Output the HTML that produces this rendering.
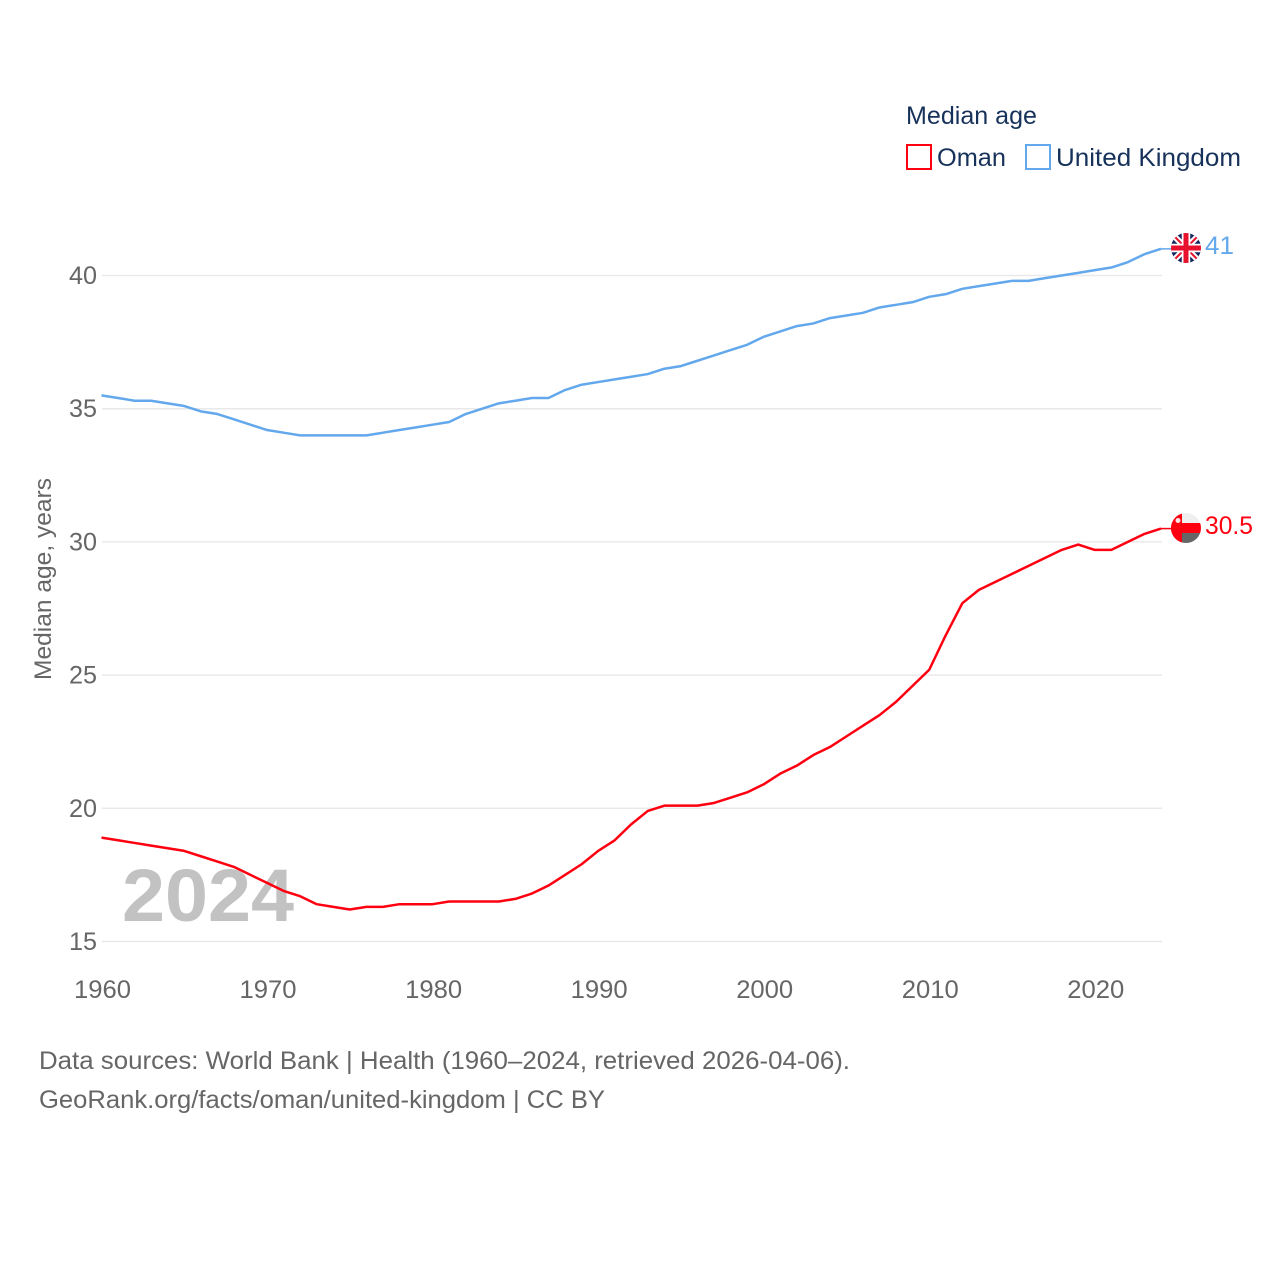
<!DOCTYPE html>
<html lang="en">
<head>
<meta charset="utf-8">
<title>Median age: Oman and United Kingdom</title>
<style>
html,body{margin:0;padding:0;background:#fff}
svg{display:block}
text{font-family:"Liberation Sans",sans-serif}
</style>
</head>
<body>
<svg id="chart" width="1280" height="1280" viewBox="0 0 1280 1280" xmlns="http://www.w3.org/2000/svg">
  <defs>
    <clipPath id="uk-clip"><circle cx="1186" cy="248" r="15"/></clipPath>
    <clipPath id="om-clip"><circle cx="1186" cy="528" r="15"/></clipPath>
  </defs>
  <g id="grid"></g>
  <g id="y-ticks"></g>
  <g id="x-ticks"></g>
  <text x="122" y="921" font-size="74" font-weight="bold" fill="#c2c2c2" textLength="172" lengthAdjust="spacingAndGlyphs">2024</text>
  <g id="series"></g>
  <text transform="translate(51,680) rotate(-90)" font-size="24" fill="#666" textLength="202" lengthAdjust="spacingAndGlyphs">Median age, years</text>

  <text x="906" y="124" font-size="25" fill="#17325a" textLength="131" lengthAdjust="spacingAndGlyphs">Median age</text>
  <rect x="907" y="145" width="24" height="24" fill="none" stroke="#ff0010" stroke-width="2"/>
  <text x="937" y="166" font-size="25" fill="#17325a" textLength="69" lengthAdjust="spacingAndGlyphs">Oman</text>
  <rect x="1026" y="145" width="24" height="24" fill="none" stroke="#63a8ec" stroke-width="2"/>
  <text x="1056" y="166" font-size="25" fill="#17325a" textLength="185" lengthAdjust="spacingAndGlyphs">United Kingdom</text>

  <g clip-path="url(#uk-clip)">
    <rect x="1171" y="233" width="30" height="30" fill="#14275f"/>
    <path d="M1171 233L1201 263M1201 233L1171 263" stroke="#fff" stroke-width="6"/>
    <path d="M1171 233L1201 263M1201 233L1171 263" stroke="#e8112d" stroke-width="2"/>
    <path d="M1186 233V263M1171 248H1201" stroke="#fff" stroke-width="8.5"/>
    <path d="M1186 233V263M1171 248H1201" stroke="#e8112d" stroke-width="5"/>
  </g>
  <text x="1205" y="254" font-size="25" fill="#63a8ec" textLength="29" lengthAdjust="spacingAndGlyphs">41</text>

  <g clip-path="url(#om-clip)">
    <rect x="1171" y="513" width="30" height="10" fill="#efefef"/>
    <rect x="1171" y="523" width="30" height="10" fill="#ff0010"/>
    <rect x="1171" y="533" width="30" height="10" fill="#666"/>
    <rect x="1171" y="513" width="11" height="30" fill="#ff0010"/>
    <circle cx="1178" cy="520.5" r="2.5" fill="#fbe3e3"/>
  </g>
  <text x="1205" y="534" font-size="25" fill="#ff0010" textLength="48" lengthAdjust="spacingAndGlyphs">30.5</text>

  <text x="39" y="1069" font-size="25" fill="#666" textLength="811" lengthAdjust="spacingAndGlyphs">Data sources: World Bank | Health (1960–2024, retrieved 2026-04-06).</text>
  <a><text x="39" y="1108" font-size="25" fill="#666" textLength="566" lengthAdjust="spacingAndGlyphs">GeoRank.org/facts/oman/united-kingdom | CC BY</text></a>
</svg>
<script>
const startYear = 1960;
const yTickValues = [15, 20, 25, 30, 35, 40];
const xTickValues = [1960, 1970, 1980, 1990, 2000, 2010, 2020];
const omanValues = [18.9,18.8,18.7,18.6,18.5,18.4,18.2,18.0,17.8,17.5,17.2,16.9,16.7,16.4,16.3,16.2,16.3,16.3,16.4,16.4,16.4,16.5,16.5,16.5,16.5,16.6,16.8,17.1,17.5,17.9,18.4,18.8,19.4,19.9,20.1,20.1,20.1,20.2,20.4,20.6,20.9,21.3,21.6,22.0,22.3,22.7,23.1,23.5,24.0,24.6,25.2,26.5,27.7,28.2,28.5,28.8,29.1,29.4,29.7,29.9,29.7,29.7,30.0,30.3,30.5];
const ukValues = [35.5,35.4,35.3,35.3,35.2,35.1,34.9,34.8,34.6,34.4,34.2,34.1,34.0,34.0,34.0,34.0,34.0,34.1,34.2,34.3,34.4,34.5,34.8,35.0,35.2,35.3,35.4,35.4,35.7,35.9,36.0,36.1,36.2,36.3,36.5,36.6,36.8,37.0,37.2,37.4,37.7,37.9,38.1,38.2,38.4,38.5,38.6,38.8,38.9,39.0,39.2,39.3,39.5,39.6,39.7,39.8,39.8,39.9,40.0,40.1,40.2,40.3,40.5,40.8,41.0];

const NS = 'http://www.w3.org/2000/svg';
const xLeft = 101.5, xRight = 1161, yearSpan = 64;
const gridLeft = 102, gridRight = 1162;
const labelOffset = 1;
const yAt15 = 941.5, yAt40 = 275.5;
function xScale(year) { return xLeft + (year - startYear) * (xRight - xLeft) / yearSpan; }
function yScale(v) { return yAt15 + (v - 15) * (yAt40 - yAt15) / 25; }

const gridGroup = document.getElementById('grid');
const yGroup = document.getElementById('y-ticks');
const xGroup = document.getElementById('x-ticks');
const seriesGroup = document.getElementById('series');

yTickValues.forEach(function (v) {
  const line = document.createElementNS(NS, 'line');
  
  
  line.setAttribute('x1', gridLeft);
  line.setAttribute('x2', gridRight);
  line.setAttribute('y1', yScale(v));
  line.setAttribute('y2', yScale(v));
  line.setAttribute('stroke', '#e9e9e9');
  line.setAttribute('stroke-width', '1.5');
  gridGroup.appendChild(line);

  const label = document.createElementNS(NS, 'text');
  
  
  label.setAttribute('x', 97);
  label.setAttribute('y', yScale(v) + 8.5);
  label.setAttribute('text-anchor', 'end');
  label.setAttribute('font-size', '25');
  label.setAttribute('fill', '#666');
  label.setAttribute('textLength', '28');
  label.setAttribute('lengthAdjust', 'spacingAndGlyphs');
  label.textContent = v;
  yGroup.appendChild(label);
});

xTickValues.forEach(function (year) {
  const label = document.createElementNS(NS, 'text');
  
  
  label.setAttribute('x', xScale(year) + labelOffset);
  label.setAttribute('y', 998);
  label.setAttribute('text-anchor', 'middle');
  label.setAttribute('font-size', '25');
  label.setAttribute('fill', '#666');
  label.setAttribute('textLength', '57');
  label.setAttribute('lengthAdjust', 'spacingAndGlyphs');
  label.textContent = year;
  xGroup.appendChild(label);
});

function drawSeries(values, color, name) {
  const d = values.map(function (v, i) {
    return (i ? 'L' : 'M') + xScale(startYear + i).toFixed(2) + ' ' + yScale(v).toFixed(2);
  }).join('');
  const path = document.createElementNS(NS, 'path');
  
  
  path.setAttribute('d', d);
  path.setAttribute('fill', 'none');
  path.setAttribute('stroke', color);
  path.setAttribute('stroke-width', '2.5');
  path.setAttribute('stroke-linejoin', 'round');
  seriesGroup.appendChild(path);

  const lastY = yScale(values[values.length - 1]);
  const connector = document.createElementNS(NS, 'line');
  
  
  connector.setAttribute('x1', xRight);
  connector.setAttribute('x2', xRight + 11);
  connector.setAttribute('y1', lastY);
  connector.setAttribute('y2', lastY);
  connector.setAttribute('stroke', color);
  connector.setAttribute('stroke-width', '1.5');
  seriesGroup.appendChild(connector);
}
drawSeries(ukValues, '#63a8ec', 'united-kingdom');
drawSeries(omanValues, '#ff0010', 'oman');
</script>
</body>
</html>
